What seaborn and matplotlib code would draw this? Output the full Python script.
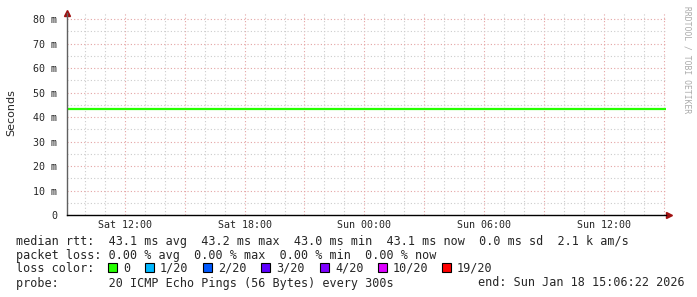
import matplotlib
matplotlib.use("Agg")
import matplotlib.pyplot as plt
import matplotlib.dates as mdates
from matplotlib.ticker import MultipleLocator, FuncFormatter
from matplotlib.patches import Rectangle
import seaborn as sns
import pandas as pd

# ---------------- data ----------------
hours = pd.date_range("2026-01-17 09:06:22", "2026-01-18 15:06:22", freq="1h")
median_rtt_ms = [43.1, 43.1, 43.1, 43.1, 43.1, 43.1, 43.1, 43.1, 43.1, 43.1,
                 43.1, 43.1, 43.1, 43.1, 43.1, 43.1, 43.1, 43.1, 43.1, 43.1,
                 43.1, 43.1, 43.1, 43.1, 43.1, 43.1, 43.1, 43.1, 43.1, 43.1,
                 43.1]
loss_labels = ["0", "1/20", "2/20", "3/20", "4/20", "10/20", "19/20"]
loss_colors = ["#26ff00", "#00b8ff", "#0059ff", "#5e00ff", "#7e00ff", "#dd00ff", "#ff0000"]
ytick_labels = ["0", "10 m", "20 m", "30 m", "40 m", "50 m", "60 m", "70 m", "80 m"]

stats_line1 = "median rtt:  43.1 ms avg  43.2 ms max  43.0 ms min  43.1 ms now  0.0 ms sd  2.1 k am/s"
stats_line2 = "packet loss: 0.00 % avg  0.00 % max  0.00 % min  0.00 % now"
probe_text = "probe:       20 ICMP Echo Pings (56 Bytes) every 300s"
end_text = "end: Sun Jan 18 15:06:22 2026"

df = pd.DataFrame({"time": hours, "rtt": median_rtt_ms})

# ---------------- figure ----------------
W, H = 697, 297
sns.set_style("white")
plt.rcParams["font.family"] = ["DejaVu Sans"]
fig = plt.figure(figsize=(W / 100, H / 100), dpi=100)

def px(x, y):
    return x / W, 1 - y / H

L, R, T, B = 67, 666, 13, 215
ax = fig.add_axes([L / W, 1 - B / H, (R - L) / W, (B - T) / H])

sns.lineplot(data=df, x="time", y="rtt", ax=ax, color=loss_colors[0], linewidth=1.6)

ax.set_xlim(hours[0], hours[-1])
ax.set_ylim(0, 82.5)

# grid
ax.xaxis.set_major_locator(mdates.HourLocator(byhour=range(0, 24, 3)))
ax.xaxis.set_minor_locator(mdates.HourLocator())
def xfmt(v, pos):
    d = mdates.num2date(v)
    return d.strftime("%a %H:%M") if d.hour % 6 == 0 else ""
ax.xaxis.set_major_formatter(FuncFormatter(xfmt))
ax.yaxis.set_major_locator(MultipleLocator(10))
ax.yaxis.set_minor_locator(MultipleLocator(5))
ax.set_yticks(range(0, 81, 10))
ax.set_yticklabels(ytick_labels)

ax.grid(which="minor", color="#cccccc", linestyle=(0, (1, 2)), linewidth=0.8)
ax.grid(which="major", color="#e4a4a4", linestyle=(0, (1, 2)), linewidth=0.8)
ax.set_axisbelow(True)

for s in ["top", "right"]:
    ax.spines[s].set_visible(False)
ax.spines["left"].set_color("#606060")
ax.spines["bottom"].set_color("black")
ax.spines["left"].set_linewidth(1.0)
ax.spines["bottom"].set_linewidth(1.0)

mono = "DejaVu Sans Mono"
ax.tick_params(axis="y", which="major", direction="out", length=3, width=0.8,
               color="#404040", labelsize=7.2, pad=4)
ax.tick_params(axis="y", which="minor", length=0)
ax.tick_params(axis="x", which="both", length=0, labelsize=7.2, pad=3.5)
for lab in ax.get_xticklabels() + ax.get_yticklabels():
    lab.set_fontfamily(mono)

ax.set_xlabel("")
ax.set_ylabel("")
fig.text(*px(11, 113), "Seconds", rotation=90, ha="center", va="center", fontsize=8)

# axis arrows
ax.plot([0], [1.0], marker="^", color="#a01010", markersize=4.5, transform=ax.transAxes,
        clip_on=False)
ax.plot([1.005], [0], marker=">", color="#a01010", markersize=4.5, transform=ax.transAxes,
        clip_on=False)

# watermark
fig.text(*px(687, 60), "RRDTOOL / TOBI OETIKER", rotation=270, ha="center", va="center",
         fontsize=5.8, color="#aaaaaa", family=mono)

# legend text
fs = 8.5
fig.text(*px(16, 241), stats_line1, ha="left", va="center", fontsize=fs, family=mono)
fig.text(*px(16, 255), stats_line2, ha="left", va="center", fontsize=fs, family=mono)
fig.text(*px(16, 268), "loss color:", ha="left", va="center", fontsize=fs, family=mono)
sq_x = [108, 145, 203, 261, 320, 378, 442]
for x, lab, c in zip(sq_x, loss_labels, loss_colors):
    fig.patches.append(Rectangle(px(x, 272), 9 / W, 9 / H, transform=fig.transFigure,
                                 facecolor=c, edgecolor="black", linewidth=0.8))
    fig.text(*px(x + 15, 268), lab, ha="left", va="center", fontsize=fs, family=mono)
fig.text(*px(16, 283), probe_text, ha="left", va="center", fontsize=fs, family=mono)
fig.text(*px(478, 283), end_text, ha="left", va="center", fontsize=fs, family=mono)

fig.savefig("out.png", dpi=100, facecolor="white")
